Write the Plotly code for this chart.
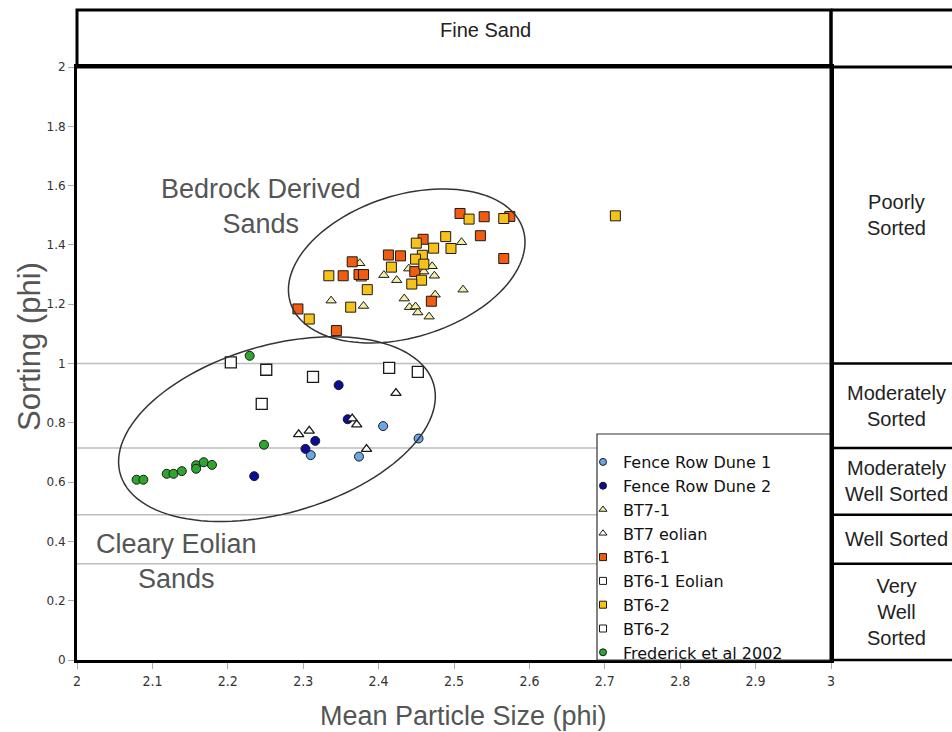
import numpy as np
import plotly.graph_objects as go

# ---------------- data ----------------
fence1_x = [2.406, 2.453, 2.310, 2.374]
fence1_y = [0.789, 0.747, 0.691, 0.686]

fence2_x = [2.347, 2.359, 2.316, 2.303, 2.235]
fence2_y = [0.927, 0.812, 0.739, 0.712, 0.620]

bt71_x = [2.510, 2.375, 2.440, 2.471, 2.460, 2.474, 2.407, 2.377, 2.424,
          2.512, 2.475, 2.434, 2.337, 2.380, 2.441, 2.449, 2.452, 2.467]
bt71_y = [1.409, 1.338, 1.320, 1.328, 1.310, 1.296, 1.298, 1.286, 1.281,
          1.249, 1.232, 1.219, 1.212, 1.194, 1.190, 1.192, 1.172, 1.158]

bt7e_x = [2.423, 2.365, 2.371, 2.294, 2.308, 2.384]
bt7e_y = [0.900, 0.814, 0.794, 0.761, 0.773, 0.711]

bt61_x = [2.508, 2.540, 2.574, 2.459, 2.535, 2.413, 2.429, 2.365, 2.353,
          2.374, 2.380, 2.448, 2.566, 2.470, 2.293, 2.344]
bt61_y = [1.506, 1.495, 1.496, 1.419, 1.431, 1.366, 1.363, 1.343, 1.296,
          1.300, 1.300, 1.310, 1.354, 1.210, 1.184, 1.111]

bt61e_x = [2.204, 2.251, 2.245]
bt61e_y = [1.004, 0.979, 0.864]

bt62_x = [2.520, 2.566, 2.450, 2.489, 2.473, 2.496, 2.458, 2.449, 2.460,
          2.417, 2.334, 2.457, 2.444, 2.385, 2.363, 2.308, 2.714]
bt62_y = [1.487, 1.489, 1.406, 1.428, 1.389, 1.388, 1.365, 1.352, 1.335,
          1.325, 1.296, 1.281, 1.268, 1.249, 1.190, 1.150, 1.498]

bt62w_x = [2.313, 2.414, 2.452]
bt62w_y = [0.955, 0.985, 0.972]

fred_x = [2.229, 2.248, 2.079, 2.088, 2.119, 2.128, 2.139, 2.158, 2.158, 2.168, 2.179]
fred_y = [1.026, 0.726, 0.608, 0.608, 0.628, 0.628, 0.637, 0.657, 0.645, 0.667, 0.658]

# sorting class boundaries (phi) and labels
class_bounds = [1.0, 0.715, 0.49, 0.325]
class_labels = ["Poorly<br>Sorted", "Moderately<br>Sorted", "Moderately<br>Well Sorted",
                "Well Sorted", "Very<br>Well<br>Sorted"]

x_ticks = [2, 2.1, 2.2, 2.3, 2.4, 2.5, 2.6, 2.7, 2.8, 2.9, 3]
y_ticks = [0, 0.2, 0.4, 0.6, 0.8, 1, 1.2, 1.4, 1.6, 1.8, 2]

# ---------------- layout geometry ----------------
W, H = 952, 732
ML, MR, MT, MB = 77, 121, 67, 72
PW, PH = W - ML - MR, H - MT - MB
XR, YR = (2, 3), (0, 2)


def py2paper(py):
    return (H - MB - py) / PH


def px2paper(px):
    return (px - ML) / PW


def ellipse_path(cx, cy, a_px, b_px, ang_deg, n=120):
    sx = PW / (XR[1] - XR[0])
    sy = PH / (YR[1] - YR[0])
    t = np.linspace(0, 2 * np.pi, n)
    th = np.radians(ang_deg)
    dx = a_px * np.cos(t) * np.cos(th) - b_px * np.sin(t) * np.sin(th)
    dy = a_px * np.cos(t) * np.sin(th) + b_px * np.sin(t) * np.cos(th)
    xs = cx + dx / sx
    ys = cy + dy / sy
    d = "M " + " L ".join(f"{x:.5f},{y:.5f}" for x, y in zip(xs, ys)) + " Z"
    return d


fig = go.Figure()

series = [
    ("Fence Row Dune 1", fence1_x, fence1_y, "circle", "#6aa6e6", 9),
    ("Fence Row Dune 2", fence2_x, fence2_y, "circle", "#0a0a9c", 9),
    ("BT7-1", bt71_x, bt71_y, "triangle-up", "#f3efa6", 9),
    ("BT7 eolian", bt7e_x, bt7e_y, "triangle-up", "#ffffff", 9),
    ("BT6-1", bt61_x, bt61_y, "square", "#f25c10", 10),
    ("BT6-1 Eolian", bt61e_x, bt61e_y, "square", "#ffffff", 11),
    ("BT6-2", bt62_x, bt62_y, "square", "#f7c31a", 10),
    ("BT6-2", bt62w_x, bt62w_y, "square", "#ffffff", 11),
    ("Frederick et al 2002", fred_x, fred_y, "circle", "#2ea62e", 9),
]

for name, xs, ys, sym, col, sz in series:
    fig.add_trace(go.Scatter(
        x=xs, y=ys, mode="markers", name=name, showlegend=False,
        marker=dict(symbol=sym, color=col, size=sz,
                    line=dict(color="#1a1a1a", width=1.3 if col == "#ffffff" else 1)),
        cliponaxis=False,
    ))

# legend-only entries with small symbols
for name, xs, ys, sym, col, sz in series:
    fig.add_trace(go.Scatter(
        x=[None], y=[None], mode="markers", name=name, showlegend=True,
        marker=dict(symbol=sym, color=col, size=7,
                    line=dict(color="#1a1a1a", width=1)),
    ))

shapes = []
# horizontal sorting class lines
for b in class_bounds:
    shapes.append(dict(type="line", xref="paper", yref="y", x0=0, x1=1, y0=b, y1=b,
                       line=dict(color="#bdbdbd", width=1.5), layer="below"))

# ellipses
shapes.append(dict(type="path", xref="x", yref="y",
                   path=ellipse_path(2.4373, 1.329, 122, 71, 17.5),
                   line=dict(color="#333333", width=1.5)))
shapes.append(dict(type="path", xref="x", yref="y",
                   path=ellipse_path(2.2652, 0.7787, 163, 84, 16),
                   line=dict(color="#333333", width=1.5)))

# legend box
shapes.append(dict(type="rect", xref="paper", yref="paper",
                   x0=px2paper(597), x1=1, y0=0, y1=py2paper(434),
                   fillcolor="white", line=dict(color="#333333", width=1.2), layer="above"))

blk = dict(color="black", width=3)
# top "Fine Sand" box
shapes.append(dict(type="rect", xref="paper", yref="paper", x0=0, x1=1,
                   y0=1, y1=py2paper(10), line=blk))
# right panel
xr = px2paper(960)
for py in [10, 67]:
    shapes.append(dict(type="line", xref="paper", yref="paper", x0=1, x1=xr,
                       y0=py2paper(py), y1=py2paper(py), line=blk))
for b in class_bounds + [0]:
    shapes.append(dict(type="line", xref="paper", yref="paper", x0=1, x1=xr,
                       y0=b / 2, y1=b / 2, line=dict(color="black", width=2.5)))
shapes.append(dict(type="line", xref="paper", yref="paper", x0=1, x1=1,
                   y0=0, y1=py2paper(10), line=blk))

annotations = []
afont = dict(family="Liberation Sans, Arial, sans-serif", size=20, color="#222222")
annotations.append(dict(text="Fine Sand", xref="paper", yref="paper", x=px2paper(485),
                        y=py2paper(30), xanchor="center", yanchor="middle",
                        showarrow=False, font=afont))
bounds = [2.0] + class_bounds + [0.0]
for i, lab in enumerate(class_labels):
    ymid = (bounds[i] + bounds[i + 1]) / 2
    annotations.append(dict(text=lab, xref="paper", yref="paper", x=px2paper(897),
                            y=ymid / 2, xanchor="center", yanchor="middle",
                            showarrow=False, align="center",
                            font=dict(family="Liberation Sans, Arial, sans-serif",
                                      size=20, color="#222222")))

lfont = dict(family="Liberation Sans, Helvetica, Arial, sans-serif", size=27, color="#555555")
annotations.append(dict(text="Bedrock Derived<br>Sands", xref="paper", yref="paper",
                        x=px2paper(261), y=py2paper(206), xanchor="center", yanchor="middle",
                        showarrow=False, align="center", font=lfont))
annotations.append(dict(text="Cleary Eolian<br>Sands", xref="paper", yref="paper",
                        x=px2paper(176), y=py2paper(561), xanchor="center", yanchor="middle",
                        showarrow=False, align="center", font=lfont))

annotations.append(dict(text="Sorting (phi)", xref="paper", yref="paper",
                        x=px2paper(29), y=py2paper(347), xanchor="center", yanchor="middle",
                        showarrow=False, textangle=-90,
                        font=dict(family="Liberation Sans, Helvetica, Arial, sans-serif",
                                  size=31, color="#555555")))
annotations.append(dict(text="Mean Particle Size (phi)", xref="paper", yref="paper",
                        x=px2paper(463), y=py2paper(716), xanchor="center", yanchor="middle",
                        showarrow=False,
                        font=dict(family="Liberation Sans, Helvetica, Arial, sans-serif",
                                  size=27, color="#555555")))

fig.update_layout(
    width=W, height=H,
    margin=dict(l=ML, r=MR, t=MT, b=MB, pad=0),
    paper_bgcolor="white", plot_bgcolor="white",
    shapes=shapes, annotations=annotations,
    showlegend=True,
    legend=dict(x=px2paper(583), y=py2paper(445), xanchor="left", yanchor="top",
                bgcolor="rgba(0,0,0,0)", borderwidth=0,
                font=dict(family="DejaVu Sans, Verdana, sans-serif", size=16, color="#111111"),
                tracegroupgap=0, itemsizing="trace"),
    xaxis=dict(range=list(XR), tickvals=x_ticks, ticktext=[f"{v:g}" for v in x_ticks],
               showgrid=False, zeroline=False, showline=True, linecolor="black",
               linewidth=3, mirror=True, ticks="outside", ticklen=6, tickcolor="#aaaaaa",
               tickfont=dict(family="Liberation Sans Narrow, DejaVu Sans Condensed, Arial Narrow, sans-serif",
                             size=14, color="#333333")),
    yaxis=dict(range=list(YR), tickvals=y_ticks, ticktext=[f"{v:g}" for v in y_ticks],
               showgrid=False, zeroline=False, showline=True, linecolor="black",
               linewidth=3, mirror=True, ticks="outside", ticklen=6, tickcolor="#aaaaaa",
               tickfont=dict(family="DejaVu Sans, Verdana, sans-serif", size=12, color="#333333")),
)

fig.write_html("out.html", config={"displayModeBar": False},
               post_script="document.body.style.margin='0';document.body.style.overflow='hidden';")
